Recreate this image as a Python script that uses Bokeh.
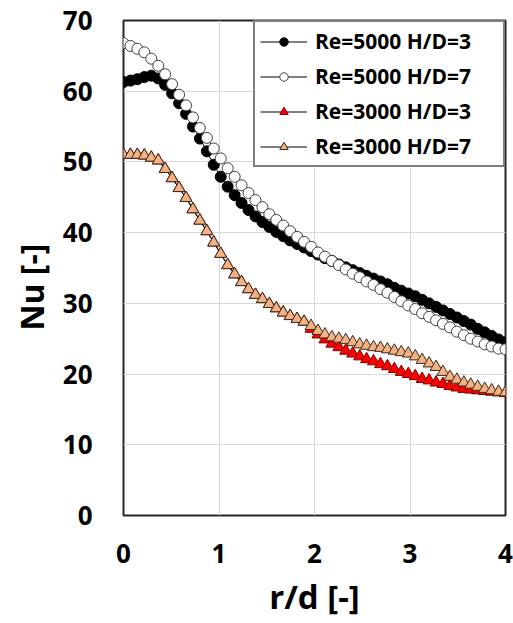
from bokeh.plotting import figure
from bokeh.models import Legend, LegendItem, FixedTicker, Range1d, Title
from bokeh.embed import file_html
from bokeh.resources import INLINE

# r/d positions
rd = [0.000, 0.073, 0.145, 0.218, 0.291, 0.364, 0.436, 0.509, 0.582, 0.655,
      0.727, 0.800, 0.873, 0.945, 1.018, 1.091, 1.164, 1.236, 1.309, 1.382,
      1.455, 1.527, 1.600, 1.673, 1.745, 1.818, 1.891, 1.964, 2.036, 2.109,
      2.182, 2.255, 2.327, 2.400, 2.473, 2.545, 2.618, 2.691, 2.764, 2.836,
      2.909, 2.982, 3.055, 3.127, 3.200, 3.273, 3.345, 3.418, 3.491, 3.564,
      3.636, 3.709, 3.782, 3.855, 3.927, 4.000]

nu_re5000_hd3 = [61.3, 61.5, 61.7, 62.0, 62.2, 61.8, 60.9, 59.7, 58.3, 56.8,
                 55.0, 53.3, 51.5, 49.6, 47.9, 46.5, 45.3, 44.2, 43.2, 42.3,
                 41.5, 40.8, 40.1, 39.5, 38.9, 38.4, 37.9, 37.4, 36.9, 36.4,
                 36.0, 35.5, 35.1, 34.7, 34.3, 33.9, 33.5, 33.1, 32.7, 32.2,
                 31.8, 31.4, 31.0, 30.5, 30.0, 29.5, 29.0, 28.5, 28.0, 27.5,
                 27.0, 26.4, 25.9, 25.4, 24.9, 24.5]

nu_re5000_hd7 = [66.8, 66.4, 66.0, 65.5, 64.6, 63.6, 62.4, 61.0, 59.5, 58.0,
                 56.3, 54.8, 53.4, 51.9, 50.5, 49.1, 47.9, 46.7, 45.6, 44.6,
                 43.6, 42.6, 41.8, 41.0, 40.2, 39.4, 38.7, 38.0, 37.2, 36.6,
                 36.0, 35.4, 34.8, 34.2, 33.7, 33.1, 32.6, 32.0, 31.5, 30.9,
                 30.3, 29.7, 29.2, 28.6, 28.1, 27.6, 27.1, 26.6, 26.0, 25.5,
                 25.0, 24.6, 24.2, 23.9, 23.6, 23.5]

nu_re3000_hd3 = [51.0, 51.0, 51.0, 50.9, 50.6, 50.2, 49.0, 47.7, 46.3, 44.9,
                 43.3, 41.7, 40.2, 38.6, 37.0, 35.4, 34.1, 33.0, 32.0, 31.2,
                 30.6, 29.9, 29.3, 28.7, 28.2, 27.8, 27.4, 26.4, 25.6, 24.9,
                 24.3, 23.8, 23.3, 22.9, 22.5, 22.1, 21.8, 21.4, 21.1, 20.7,
                 20.3, 20.0, 19.7, 19.3, 19.1, 18.8, 18.6, 18.3, 18.1, 17.9,
                 17.8, 17.7, 17.6, 17.5, 17.4, 17.3]

nu_re3000_hd7 = [51.0, 51.0, 51.0, 50.9, 50.6, 50.2, 49.0, 47.7, 46.3, 44.9,
                 43.3, 41.7, 40.2, 38.6, 37.0, 35.4, 34.1, 33.0, 32.0, 31.2,
                 30.6, 29.9, 29.3, 28.7, 28.2, 27.8, 27.4, 26.8, 26.1, 25.6,
                 25.2, 25.0, 24.8, 24.5, 24.2, 24.0, 23.8, 23.7, 23.5, 23.3,
                 23.1, 22.9, 22.5, 22.0, 21.5, 21.0, 20.3, 19.6, 19.2, 18.8,
                 18.5, 18.2, 17.9, 17.7, 17.5, 17.4]

labels = ["Re=5000 H/D=3", "Re=5000 H/D=7", "Re=3000 H/D=3", "Re=3000 H/D=7"]
x_ticks = [0, 1, 2, 3, 4]
y_ticks = [0, 10, 20, 30, 40, 50, 60, 70]
x_title = "r/d [-]"
y_title = "Nu [-]"

FONT = "Open Sans"

p = figure(width=513, height=623, output_backend="svg", toolbar_location=None,
           x_range=Range1d(0, 4), y_range=Range1d(0, 70),
           min_border_left=123, min_border_right=8, min_border_top=20,
           min_border_bottom=108)

p.outline_line_color = "#262626"
p.outline_line_width = 2
p.background_fill_color = "white"
p.border_fill_color = "white"

for ax in (p.xaxis, p.yaxis):
    ax.axis_line_color = None
    ax.major_tick_line_color = None
    ax.minor_tick_line_color = None
    ax.major_tick_out = 0
    ax.major_tick_in = 0
    ax.minor_tick_out = 0
    ax.minor_tick_in = 0
    ax.major_label_text_font = FONT
    ax.major_label_text_font_style = "bold"
    ax.major_label_text_font_size = "26px"
    ax.major_label_text_color = "black"
    ax.axis_label_text_font = FONT
    ax.axis_label_text_font_style = "bold"
    ax.axis_label_text_font_size = "33px"
    ax.axis_label_text_color = "black"

p.xaxis.ticker = FixedTicker(ticks=x_ticks)
p.yaxis.ticker = FixedTicker(ticks=y_ticks)
p.xaxis.major_label_standoff = 28
p.yaxis.major_label_standoff = 31
p.xaxis.axis_label = x_title
p.xaxis.axis_label_standoff = 8

# y-axis title placed as a side title so it can sit slightly below centre
ytitle = Title(text=y_title, align="left", offset=185, standoff=14,
               text_font=FONT, text_font_style="bold", text_font_size="32px",
               text_color="black")
p.add_layout(ytitle, "left")

p.xgrid.ticker = FixedTicker(ticks=x_ticks)
p.ygrid.ticker = FixedTicker(ticks=y_ticks)
p.grid.grid_line_color = "#d9d9d9"
p.grid.grid_line_width = 1

series = [
    (nu_re5000_hd3, "circle", "black", "black", 11),
    (nu_re5000_hd7, "circle", "white", "#404040", 11),
    (nu_re3000_hd3, "triangle", "#ff0000", "#7f0000", 12),
    (nu_re3000_hd7, "triangle", "#f4b183", "#3a2a1a", 12),
]

items = []
for (vals, marker, fill, edge, size), lab in zip(series, labels):
    lr = p.line(rd, vals, line_color="black", line_width=1)
    sr = p.scatter(rd, vals, marker=marker, size=size, fill_color=fill,
                   line_color=edge, line_width=1)
    items.append(LegendItem(label=lab, renderers=[lr, sr]))

legend = Legend(items=items, location="top_right")
legend.margin = 0
legend.padding = 5
legend.spacing = 7
legend.label_height = 21
legend.glyph_height = 21
legend.glyph_width = 47
legend.label_standoff = 8
legend.label_width = 183
legend.label_text_font = FONT
legend.label_text_font_style = "bold"
legend.label_text_font_size = "21px"
legend.label_text_color = "black"
legend.border_line_color = "black"
legend.border_line_width = 2
legend.background_fill_color = "white"
legend.background_fill_alpha = 1
p.add_layout(legend)

open("out.html", "w").write(file_html(p, INLINE))
